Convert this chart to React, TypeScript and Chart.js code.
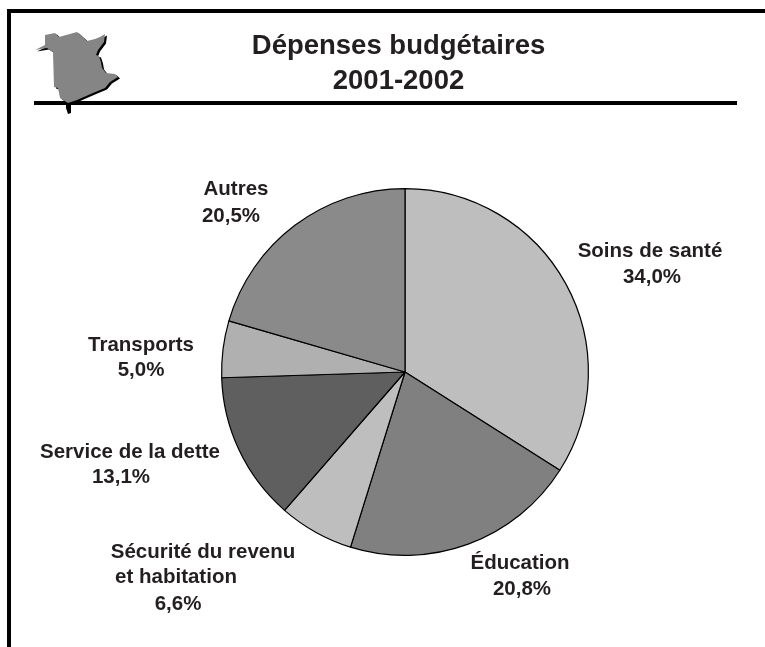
import React, { useEffect, useRef } from "react";
import { Chart, registerables } from "chart.js";

Chart.register(...registerables);

const categories = ["Soins de santé", "Éducation", "Sécurité du revenu et habitation", "Service de la dette", "Transports", "Autres"];
const shares = [34.0, 20.8, 6.6, 13.1, 5.0, 20.5];
const sliceColors = ["#bebebe", "#808080", "#bebebe", "#5f5f5f", "#b0b0b0", "#8a8a8a"];
const titleLines = ["Dépenses budgétaires", "2001-2002"];
const labelLines = [
  ["Soins de santé", "34,0%"],
  ["Éducation", "20,8%"],
  ["Sécurité du revenu", "et habitation", "6,6%"],
  ["Service de la dette", "13,1%"],
  ["Transports", "5,0%"],
  ["Autres", "20,5%"],
];
const labelX = [[650, 652], [520, 522], [203, 176, 178], [130, 121], [141, 141], [236, 231]];
const labelY = [[257, 283], [569, 595], [558, 583, 610], [458, 483], [351, 376], [195, 222]];
const mapOutline = [
  [35, 50], [45, 45], [45, 35], [55, 33], [59, 37], [77, 32], [87, 41], [95, 39], [100, 37], [105, 34],
  [104, 42], [98, 50], [96, 55], [99, 56], [101, 62], [102, 68], [106, 73], [115, 74], [118, 77], [110, 82],
  [105, 88], [93, 93], [77, 100], [68, 103], [60, 98], [58, 88], [54, 87], [53, 52], [47, 48],
];
const mapTail = [[66, 102], [71, 104], [71, 113], [68, 114], [66, 108]];

const decor = {
  id: "decor",
  afterDraw(chart: any) {
    const c = chart.ctx;
    c.save();
    c.fillStyle = "#000";
    c.fillRect(7, 9, 758, 4);
    c.fillRect(7, 9, 4, 638);
    c.fillRect(34, 101, 703, 4);

    const trace = (pts: number[][], dx: number, dy: number) => {
      c.beginPath();
      pts.forEach(([x, y], i) => (i ? c.lineTo(x + dx, y + dy) : c.moveTo(x + dx, y + dy)));
      c.closePath();
    };
    trace(mapOutline, 2, 1.5);
    c.fillStyle = "#000";
    c.fill();
    trace(mapTail, 0, 0);
    c.fill();
    trace(mapOutline, 0, 0);
    c.fillStyle = "#858585";
    c.fill();

    c.textAlign = "center";
    c.textBaseline = "alphabetic";
    c.fillStyle = "#231f20";
    c.font = 'bold 27.5px "Liberation Sans"';
    titleLines.forEach((t, i) => c.fillText(t, 398.5, 54 + i * 35));

    c.font = 'bold 20.5px "Liberation Sans"';
    labelLines.forEach((lines, i) => {
      lines.forEach((t, j) => c.fillText(t, labelX[i][j], labelY[i][j]));
    });
    c.restore();
  },
};

export default function App() {
  const ref = useRef<HTMLCanvasElement>(null);
  useEffect(() => {
    const chart = new Chart(ref.current!, {
      type: "pie",
      data: {
        labels: categories,
        datasets: [{ data: shares, backgroundColor: sliceColors, borderColor: "#000", borderWidth: 1.2 }],
      },
      options: {
        responsive: false,
        animation: false,
        layout: { padding: { left: 221, right: 176, top: 188, bottom: 91 } },
        plugins: { legend: { display: false }, tooltip: { enabled: false }, title: { display: false } },
      },
      plugins: [decor],
    });
    return () => chart.destroy();
  }, []);
  return (
    <canvas
      ref={ref}
      width={765}
      height={647}
      style={{ position: "fixed", left: 0, top: 0, width: 765, height: 647, background: "#fff" }}
    />
  );
}
